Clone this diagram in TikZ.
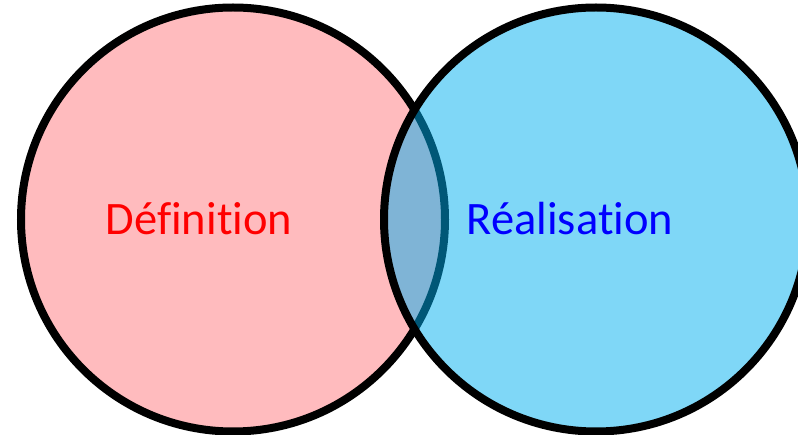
\documentclass[tikz,border=0pt]{standalone}
\usepackage{fontspec}
\setmainfont[Ligatures=NoCommon]{Carlito}
\definecolor{pinkfill}{RGB}{255,187,190}
\definecolor{bluefill}{RGB}{0,175,239}
\definecolor{deftext}{RGB}{255,0,0}
\definecolor{realtext}{RGB}{0,0,255}
\begin{document}
\begin{tikzpicture}[x=1pt,y=-1pt,
  ring/.style={line width=8pt},
  lab/.style={anchor=base,inner sep=0pt,font=\fontsize{46.5}{52}\selectfont}]
\useasboundingbox (0,0) rectangle (798,435);
\clip (0,0) rectangle (798,435);
\path[ring,fill=pinkfill,draw=black] (233,219.5) circle[radius=212];
\path[fill=bluefill,fill opacity=0.5] (596,219.5) circle[radius=212];
\path[ring,draw=black] (596,219.5) circle[radius=212];
\node[lab,text=deftext] (def) at (199,235) {Définition};
\node[lab,text=realtext] (real) at (570,235) {Réalisation};
\end{tikzpicture}
\end{document}
